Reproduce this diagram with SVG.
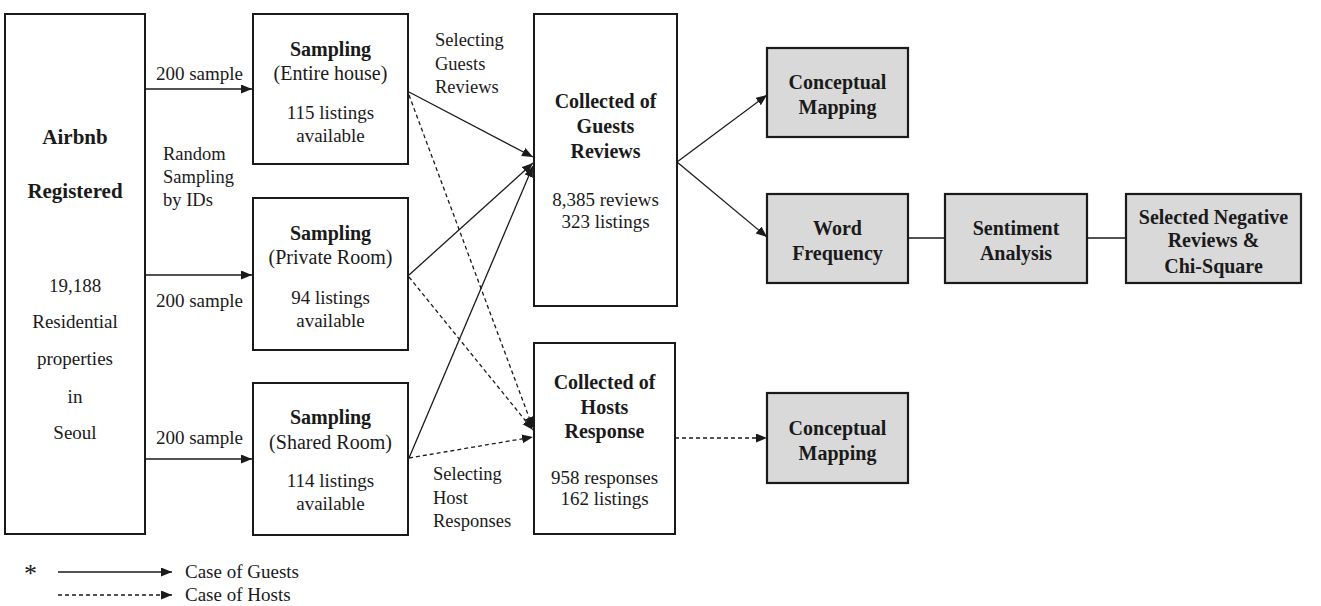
<svg xmlns="http://www.w3.org/2000/svg" width="1321" height="606" viewBox="0 0 1321 606">
<style>
.box{fill:#fff;stroke:#1a1a1a;stroke-width:2}
.gbox{fill:#d9d9d9;stroke:#1a1a1a;stroke-width:2.2}
text{font-family:'Liberation Serif','DejaVu Serif',serif;font-size:19px;fill:#1a1a1a}
.b{font-weight:bold;font-size:20px}
.bb{font-size:21px}
.c{text-anchor:middle}
.s{font-size:18.5px}
.lg{font-size:19px}
.ln{stroke:#1a1a1a;stroke-width:1.3;fill:none}
.da{stroke-dasharray:4 3}
</style>
<defs>
<marker id="ah" markerUnits="userSpaceOnUse" markerWidth="12" markerHeight="10" refX="11" refY="4.5" orient="auto">
<path d="M0,0 L11,4.5 L0,9 z" fill="#1a1a1a"/>
</marker>
</defs>
<rect width="1321" height="606" fill="#fff"/>

<g id="connectors">
<line class="ln" x1="145" y1="89" x2="252" y2="89" marker-end="url(#ah)"/>
<line class="ln" x1="145" y1="275" x2="252" y2="275" marker-end="url(#ah)"/>
<line class="ln" x1="145" y1="459" x2="252" y2="459" marker-end="url(#ah)"/>
<line class="ln" x1="409" y1="92" x2="533" y2="157" marker-end="url(#ah)"/>
<line class="ln" x1="409" y1="275" x2="533" y2="163" marker-end="url(#ah)"/>
<line class="ln" x1="409" y1="458" x2="533" y2="166" marker-end="url(#ah)"/>
<line class="ln da" x1="409" y1="95" x2="533" y2="428" marker-end="url(#ah)"/>
<line class="ln da" x1="409" y1="277" x2="533" y2="430" marker-end="url(#ah)"/>
<line class="ln da" x1="409" y1="458" x2="533" y2="437" marker-end="url(#ah)"/>
<line class="ln" x1="677" y1="162" x2="767" y2="95" marker-end="url(#ah)"/>
<line class="ln" x1="677" y1="162" x2="767" y2="237" marker-end="url(#ah)"/>
<line class="ln" x1="908" y1="238" x2="945" y2="238"/>
<line class="ln" x1="1087" y1="238" x2="1126" y2="238"/>
<line class="ln da" x1="675" y1="438" x2="767" y2="438" marker-end="url(#ah)"/>
</g>

<g id="labels">
<text class="c" x="199.5" y="80">200 sample</text>
<text class="c" x="199.5" y="307">200 sample</text>
<text class="c" x="199.5" y="444">200 sample</text>
<text class="s" x="163" y="160">Random</text>
<text class="s" x="163" y="183">Sampling</text>
<text class="s" x="163" y="206">by IDs</text>
<text class="s" x="435" y="46">Selecting</text>
<text class="s" x="435" y="70">Guests</text>
<text class="s" x="435" y="93">Reviews</text>
<text class="s" x="433" y="480">Selecting</text>
<text class="s" x="433" y="504">Host</text>
<text class="s" x="433" y="527">Responses</text>
</g>

<g id="airbnb">
<rect class="box" x="5" y="14" width="140" height="520"/>
<text class="c b bb" x="75" y="144">Airbnb</text>
<text class="c b bb" x="75" y="198">Registered</text>
<text class="c" x="75" y="292">19,188</text>
<text class="c" x="75" y="328">Residential</text>
<text class="c" x="75" y="365">properties</text>
<text class="c" x="75" y="403">in</text>
<text class="c" x="75" y="439">Seoul</text>
</g>

<g id="sampling-entire">
<rect class="box" x="253" y="14" width="155" height="150"/>
<text class="c b" x="330.5" y="56">Sampling</text>
<text class="c" x="330.5" y="80" style="font-size:20px">(Entire house)</text>
<text class="c" x="330.5" y="119">115 listings</text>
<text class="c" x="330.5" y="142">available</text>
</g>

<g id="sampling-private">
<rect class="box" x="253" y="198" width="155" height="152"/>
<text class="c b" x="330.5" y="240">Sampling</text>
<text class="c" x="330.5" y="264" style="font-size:20px">(Private Room)</text>
<text class="c" x="330.5" y="304">94 listings</text>
<text class="c" x="330.5" y="327">available</text>
</g>

<g id="sampling-shared">
<rect class="box" x="253" y="383" width="155" height="152"/>
<text class="c b" x="330.5" y="424">Sampling</text>
<text class="c" x="330.5" y="449" style="font-size:20px">(Shared Room)</text>
<text class="c" x="330.5" y="487">114 listings</text>
<text class="c" x="330.5" y="510">available</text>
</g>

<g id="guests-reviews">
<rect class="box" x="534" y="14" width="143" height="292"/>
<text class="c b" x="605.5" y="108">Collected of</text>
<text class="c b" x="605.5" y="133">Guests</text>
<text class="c b" x="605.5" y="158">Reviews</text>
<text class="c" x="605.5" y="206">8,385 reviews</text>
<text class="c" x="605.5" y="228">323 listings</text>
</g>

<g id="hosts-response">
<rect class="box" x="534" y="343" width="141" height="191"/>
<text class="c b" x="604.5" y="389">Collected of</text>
<text class="c b" x="604.5" y="414">Hosts</text>
<text class="c b" x="604.5" y="438">Response</text>
<text class="c" x="604.5" y="484">958 responses</text>
<text class="c" x="604.5" y="505">162 listings</text>
</g>

<g id="conceptual-mapping-1">
<rect class="gbox" x="767" y="48" width="141" height="89"/>
<text class="c b" x="837.5" y="89">Conceptual</text>
<text class="c b" x="837.5" y="114">Mapping</text>
</g>

<g id="word-frequency">
<rect class="gbox" x="767" y="194" width="141" height="89"/>
<text class="c b" x="837.5" y="235">Word</text>
<text class="c b" x="837.5" y="260">Frequency</text>
</g>

<g id="sentiment-analysis">
<rect class="gbox" x="945" y="194" width="142" height="89"/>
<text class="c b" x="1016" y="235">Sentiment</text>
<text class="c b" x="1016" y="260">Analysis</text>
</g>

<g id="selected-negative">
<rect class="gbox" x="1126" y="194" width="175" height="89"/>
<text class="c b" x="1213.5" y="224">Selected Negative</text>
<text class="c b" x="1213.5" y="247">Reviews &amp;</text>
<text class="c b" x="1213.5" y="273">Chi-Square</text>
</g>

<g id="conceptual-mapping-2">
<rect class="gbox" x="767" y="393" width="141" height="90"/>
<text class="c b" x="837.5" y="435">Conceptual</text>
<text class="c b" x="837.5" y="460">Mapping</text>
</g>

<g id="legend">
<text x="24" y="582" style="font-size:26px">*</text>
<line class="ln" x1="58" y1="572" x2="172" y2="572" marker-end="url(#ah)"/>
<line class="ln da" x1="58" y1="595" x2="172" y2="595" marker-end="url(#ah)"/>
<text class="lg" x="185" y="578">Case of Guests</text>
<text class="lg" x="185" y="601">Case of Hosts</text>
</g>
</svg>
